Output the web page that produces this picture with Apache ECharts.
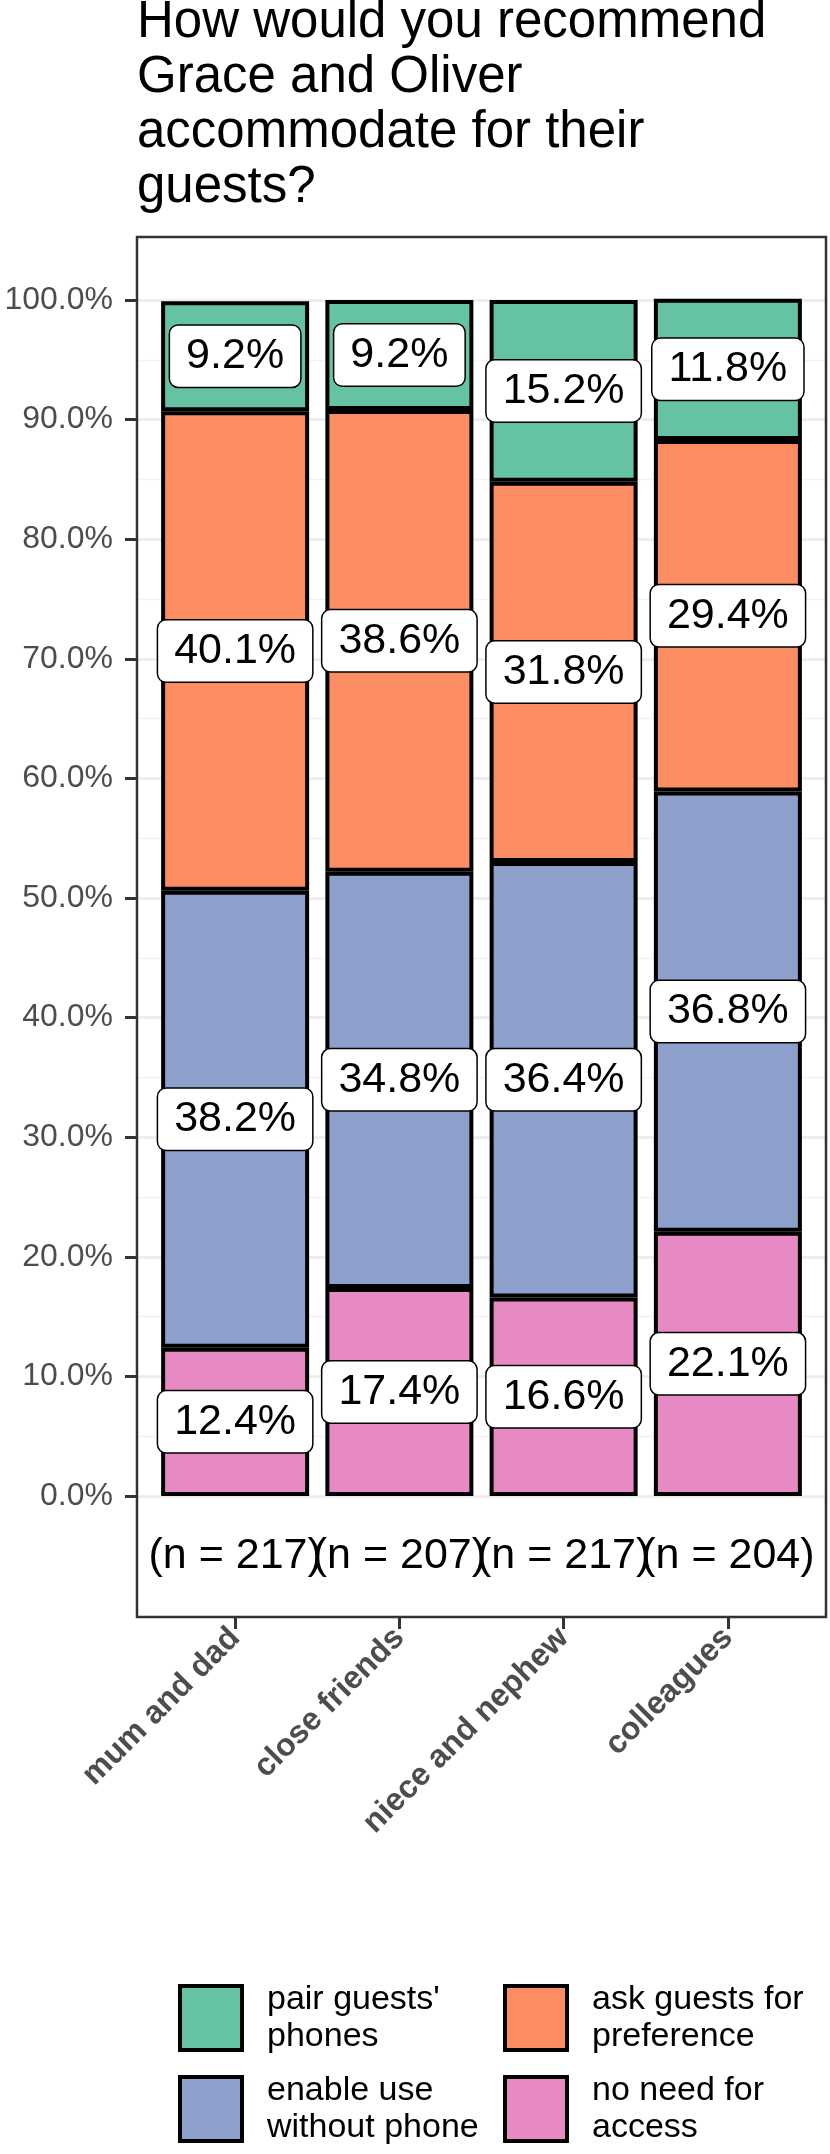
<!DOCTYPE html>
<html>
<head>
<meta charset="utf-8">
<script src="https://cdn.jsdelivr.net/npm/echarts@6/dist/echarts.min.js"></script>
<style>
  html, body { margin: 0; padding: 0; background: #fff; }
  #chart { width: 830px; height: 2154px; }
</style>
</head>
<body>
<div id="chart"></div>
<script>
// data (shares in %, stacked bottom -> top)
var categories = ['mum and dad', 'close friends', 'niece and nephew', 'colleagues'];
var sampleSizes = [217, 207, 217, 204];
var noNeed = [12.4, 17.4, 16.6, 22.1];
var enableUse = [38.2, 34.8, 36.4, 36.8];
var askGuests = [40.1, 38.6, 31.8, 29.4];
var pairPhones = [9.2, 9.2, 15.2, 11.8];
var nLabelLevel = -0.05; // where the "(n = ...)" row sits, in axis units

var FONT = '"Liberation Sans", Arial, Helvetica, sans-serif';

function share(arr) {
    return arr.map(function (v) { return v / 100; });
}

var barLabel = {
    show: true,
    position: 'inside',
    formatter: function (p) { return (p.value * 100).toFixed(1) + '%'; },
    fontFamily: FONT,
    fontSize: 43,
    lineHeight: 43,
    color: '#000',
    backgroundColor: '#fff',
    borderColor: '#000',
    borderWidth: 1.5,
    borderRadius: 8,
    padding: [9, 16]
};

function barSeries(name, arr, color) {
    return {
        name: name,
        type: 'bar',
        stack: 'total',
        xAxisIndex: 1,
        yAxisIndex: 1,
        data: share(arr),
        barWidth: 148,
        itemStyle: { color: color, borderColor: '#000', borderWidth: 4 },
        label: barLabel,
        emphasis: { disabled: true }
    };
}

var legendCommon = {
    orient: 'vertical',
    top: 1976,
    height: 200,
    padding: 0,
    itemWidth: 62, itemHeight: 64, itemGap: 7,
    icon: 'rect',
    itemStyle: { borderColor: '#000', borderWidth: 4 },
    textStyle: { fontFamily: FONT, fontSize: 34, lineHeight: 37, color: '#000', padding: [10, 0, 0, 20] },
    selectedMode: false
};

var chart = echarts.init(document.getElementById('chart'));
var option = {
    backgroundColor: '#fff',
    animation: false,
    title: {
        text: 'How would you recommend\nGrace and Oliver\naccommodate for their\nguests?',
        left: 137,
        top: -5,
        padding: 0,
        textStyle: { fontFamily: FONT, fontSize: 51, lineHeight: 55, fontWeight: 'normal', color: '#000' }
    },
    legend: [
        Object.assign({}, legendCommon, {
            left: 178,
            data: ["pair guests'\nphones", 'enable use\nwithout phone']
        }),
        Object.assign({}, legendCommon, {
            left: 503,
            data: ['ask guests for\npreference', 'no need for\naccess']
        })
    ],
    grid: [
        { left: 137, right: 4, top: 300, bottom: 658 },   // full panel width: y labels + grid lines
        { left: 153, right: 20, top: 300, bottom: 658 }   // bars
    ],
    xAxis: [
        { gridIndex: 0, type: 'value', min: 0, max: 1, show: false },
        {
            gridIndex: 1,
            type: 'category',
            data: categories,
            offset: 121,
            axisLine: { show: false, onZero: false },
            axisTick: { show: true, alignWithLabel: true, length: 12, lineStyle: { color: '#333', width: 3 } },
            axisLabel: {
                rotate: 45,
                margin: 16,
                interval: 0,
                fontFamily: FONT, fontSize: 32, fontWeight: 'bold', color: '#4D4D4D'
            }
        }
    ],
    yAxis: [
        {
            gridIndex: 0,
            type: 'value',
            min: 0,
            max: 1,
            interval: 0.1,
            axisLine: { show: false, onZero: false },
            axisTick: { show: true, length: 12, lineStyle: { color: '#333', width: 3 } },
            axisLabel: {
                margin: 24,
                formatter: function (v) { return (v * 100).toFixed(1) + '%'; },
                fontFamily: FONT, fontSize: 32, color: '#4D4D4D'
            },
            splitLine: { show: true, lineStyle: { color: '#EBEBEB', width: 2.5 } },
            minorTick: { show: false, splitNumber: 2 },
            minorSplitLine: { show: true, lineStyle: { color: '#F2F2F2', width: 1.3 } }
        },
        { gridIndex: 1, type: 'value', min: 0, max: 1, show: false }
    ],
    series: [
        barSeries('no need for\naccess', noNeed, '#E78AC3'),
        barSeries('enable use\nwithout phone', enableUse, '#8DA0CB'),
        barSeries('ask guests for\npreference', askGuests, '#FC8D62'),
        barSeries("pair guests'\nphones", pairPhones, '#66C2A5'),
        {
            name: 'n',
            type: 'scatter',
            xAxisIndex: 1,
            yAxisIndex: 1,
            data: categories.map(function () { return nLabelLevel; }),
            symbolSize: 2,
            itemStyle: { color: 'rgba(0,0,0,0)', opacity: 1 },
            clip: false,
            silent: true,
            z: 10,
            label: {
                show: true,
                position: 'inside',
                opacity: 1,
                formatter: function (p) { return '(n = ' + sampleSizes[p.dataIndex] + ')'; },
                fontFamily: FONT, fontSize: 43, color: '#000'
            }
        }
    ],
    graphic: [
        {
            type: 'rect',
            z: 100,
            silent: true,
            shape: { x: 137, y: 237, width: 689, height: 1380 },
            style: { fill: 'none', stroke: '#333', lineWidth: 2.5 }
        }
    ]
};
chart.setOption(option);
</script>
</body>
</html>
